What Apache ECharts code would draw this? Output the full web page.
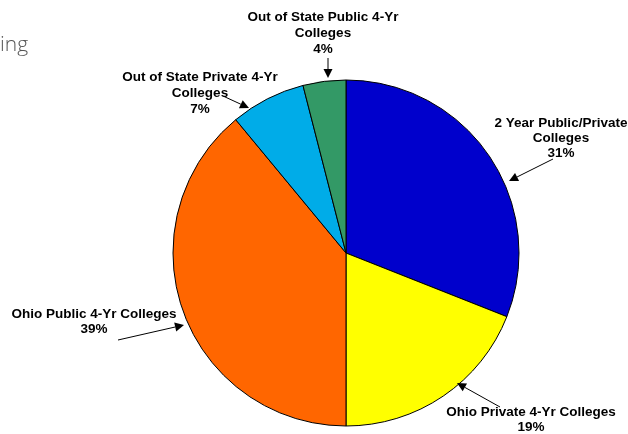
<!DOCTYPE html>
<html>
<head>
<meta charset="utf-8">
<script src="https://cdn.jsdelivr.net/npm/echarts@6/dist/echarts.min.js"></script>
<style>
html,body{margin:0;padding:0;background:#fff;}
#chart{width:628px;height:434px;}
</style>
</head>
<body>
<div id="chart"></div>
<script>
// ---- data ----
var categories = [
  "2 Year Public/Private\nColleges",
  "Ohio Private 4-Yr Colleges",
  "Ohio Public 4-Yr Colleges",
  "Out of State Private 4-Yr\nColleges",
  "Out of State Public 4-Yr\nColleges"
];
var values = [31, 19, 39, 7, 4];
var sliceColors = ["#0000CC", "#FFFF00", "#FF6600", "#00ACE8", "#339966"];
var titleFragment = "ing";

// ---- annotation layout (label centers and arrows, in px) ----
var labelPos = [
  {x: 561, y: 138, lh: 15},
  {x: 531, y: 420, lh: 15},
  {x: 94,  y: 322, lh: 15},
  {x: 200, y: 93,  lh: 16},
  {x: 323, y: 33,  lh: 16}
];
var arrows = [
  [[553, 159], [509, 181]],
  [[500, 407], [457, 383]],
  [[118, 340], [184, 325]],
  [[223, 96],  [249, 108]],
  [[328, 58],  [328, 78]]
];

var chart = echarts.init(document.getElementById('chart'), null, {renderer: 'canvas'});

var seriesData = categories.map(function (c, i) {
  return {
    name: c,
    value: values[i],
    itemStyle: {color: sliceColors[i]},
    label: {lineHeight: labelPos[i].lh}
  };
});

var graphics = [{
  type: 'text',
  left: 0,
  style: {
    x: 0, y: 45,
    text: titleFragment,
    font: '300 21px "Open Sans", "DejaVu Sans", sans-serif',
    fill: '#555555',
    verticalAlign: 'middle'
  }
}];

arrows.forEach(function (a) {
  var s = a[0], e = a[1];
  var dx = e[0] - s[0], dy = e[1] - s[1];
  var len = Math.sqrt(dx * dx + dy * dy);
  var ux = dx / len, uy = dy / len;
  var hl = 9, hw = 4.5;
  var bx = e[0] - ux * hl, by = e[1] - uy * hl;
  graphics.push({
    type: 'line',
    shape: {x1: s[0], y1: s[1], x2: bx, y2: by},
    style: {stroke: '#000', lineWidth: 1},
    z: 10
  });
  graphics.push({
    type: 'polygon',
    shape: {points: [[e[0], e[1]], [bx - uy * hw, by + ux * hw], [bx + uy * hw, by - ux * hw]]},
    style: {fill: '#000'},
    z: 10
  });
});

chart.setOption({
  backgroundColor: '#ffffff',
  animation: false,
  graphic: graphics,
  series: [{
    type: 'pie',
    center: [346, 253],
    radius: 173,
    startAngle: 90,
    clockwise: true,
    avoidLabelOverlap: false,
    itemStyle: {borderColor: '#000', borderWidth: 1},
    emphasis: {disabled: true},
    label: {
      show: true,
      position: 'outside',
      color: '#000',
      fontFamily: '"Liberation Sans", Arial, sans-serif',
      fontWeight: 'bold',
      fontSize: 13.5,
      align: 'center',
      formatter: function (p) { return p.name + '\n' + Math.round(p.percent) + '%'; }
    },
    labelLine: {show: false},
    labelLayout: function (p) {
      var lp = labelPos[p.dataIndex];
      return {x: lp.x, y: lp.y, align: 'center', verticalAlign: 'middle', hideOverlap: false};
    },
    data: seriesData
  }]
});
</script>
</body>
</html>
